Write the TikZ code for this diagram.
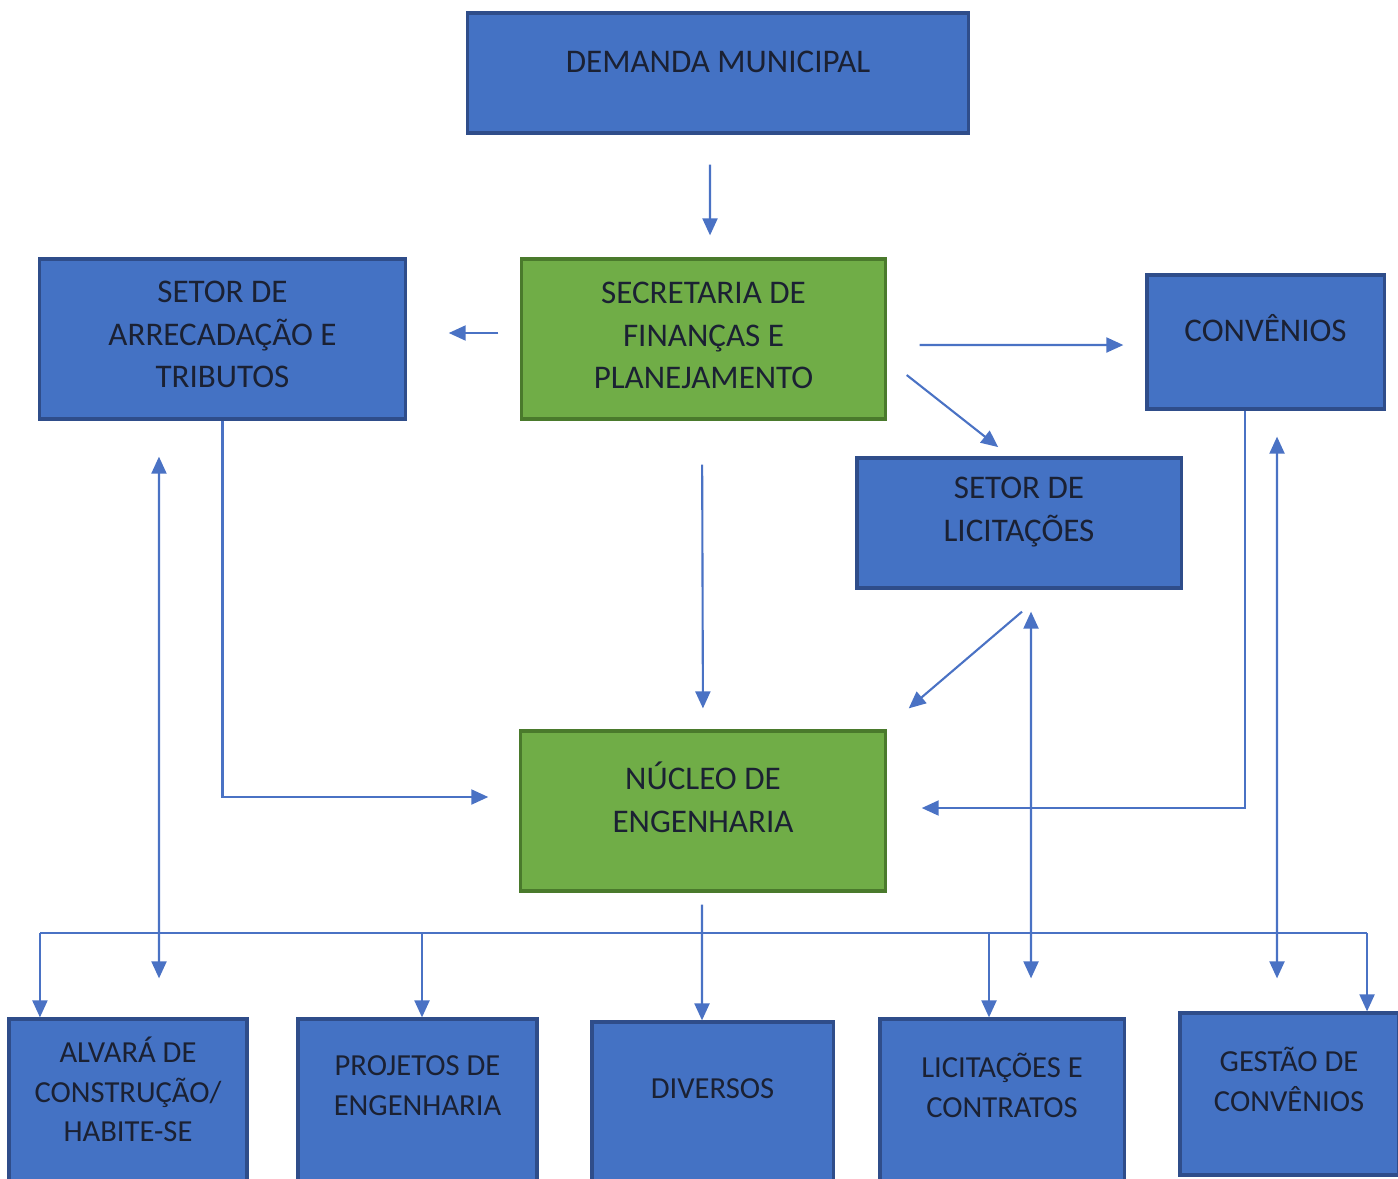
\documentclass[tikz,border=0pt]{standalone}
\usepackage{fontspec}
\setmainfont{Carlito}
\usepackage{xcolor}
\usetikzlibrary{positioning, arrows.meta, calc}
\definecolor{blueface}{HTML}{4472C4}
\definecolor{blueedge}{HTML}{2F4D8A}
\definecolor{greenface}{HTML}{70AD47}
\definecolor{greenedge}{HTML}{4A7A2C}
\definecolor{linkc}{HTML}{4A72C4}
\definecolor{txtc}{HTML}{1B2133}

\begin{document}
\begin{tikzpicture}[x=0.01cm, y=-0.01cm,
          bx/.style={draw=#1edge, fill=#1face, line width=0.9pt, inner sep=0pt},
          lbl/.style={align=center, text=txtc, font=\fontsize{9.4}{12.2}\selectfont},
          sublbl/.style={lbl, font=\fontsize{8.7}{11.3}\selectfont},
          ln/.style={draw=linkc, line width=0.6pt},
          arr/.style={ln, -{Triangle[length=1.7mm, width=1.5mm]}},
          dbl/.style={ln, {Triangle[length=1.7mm, width=1.5mm]}-{Triangle[length=1.7mm, width=1.5mm]}},
        ]
        \useasboundingbox (0,0) rectangle (1398,1178);
        \clip (0,0) rectangle (1398,1178);
        % boxes
        \node[bx=blue, minimum width=5cm, minimum height=1.2cm] (dem) at (718,73) {};
        \node[bx=blue, minimum width=3.65cm, minimum height=1.6cm] (arr) at (222.5,339) {};
        \node[bx=green, minimum width=3.63cm, minimum height=1.6cm] (sec) at (703.5,339) {};
        \node[bx=blue, minimum width=2.37cm, minimum height=1.34cm] (conv) at (1265.5,342) {};
        \node[bx=blue, minimum width=3.24cm, minimum height=1.3cm] (lic) at (1019,523) {};
        \node[bx=green, minimum width=3.64cm, minimum height=1.6cm] (nuc) at (703,811) {};
        \node[bx=blue, minimum width=2.38cm, minimum height=1.8cm] (alv) at (128,1109) {};
        \node[bx=blue, minimum width=2.39cm, minimum height=1.8cm] (proj) at (417.5,1109) {};
        \node[bx=blue, minimum width=2.41cm, minimum height=1.8cm] (div) at (712.5,1112) {};
        \node[bx=blue, minimum width=2.44cm, minimum height=1.8cm] (licc) at (1002,1109) {};
        \node[bx=blue, minimum width=2.18cm, minimum height=1.62cm] (gest) at (1289,1094) {};
        % texts
        \node[lbl] (dem-t) at ([yshift=-0.5cm]dem.north) {DEMANDA MUNICIPAL};
        \node[lbl] (arr-t) at ([yshift=-0.77cm]arr.north) {SETOR DE\\ARRECADAÇÃO E\\TRIBUTOS};
        \node[lbl] (sec-t) at ([yshift=-0.78cm]sec.north) {SECRETARIA DE\\FINANÇAS E\\PLANEJAMENTO};
        \node[lbl] (conv-t) at ([yshift=-0.55cm]conv.north) {CONVÊNIOS};
        \node[lbl] (lic-t) at ([yshift=-0.56cm]lic.north) {SETOR DE\\LICITAÇÕES};
        \node[lbl] (nuc-t) at ([yshift=-0.68cm]nuc.north) {NÚCLEO DE\\ENGENHARIA};
        \node[sublbl] (alv-t) at ([yshift=-0.72cm]alv.north) {ALVARÁ DE\\CONSTRUÇÃO/\\HABITE-SE};
        \node[sublbl] (proj-t) at ([yshift=-0.68cm]proj.north) {PROJETOS DE\\ENGENHARIA};
        \node[sublbl] (div-t) at ([yshift=-0.68cm]div.north) {DIVERSOS};
        \node[sublbl] (licc-t) at ([yshift=-0.68cm]licc.north) {LICITAÇÕES E\\CONTRATOS};
        \node[sublbl] (gest-t) at ([yshift=-0.68cm]gest.north) {GESTÃO DE\\CONVÊNIOS};
        % links
        \draw[arr, shorten <=0.3cm, shorten >=0.22cm] ([xshift=-0.08cm]dem.south) -- ([xshift=0.065cm]sec.north);
        \draw[arr, shorten <=0.22cm, shorten >=0.42cm] ([yshift=0.06cm]sec.west) -- ([yshift=0.06cm]arr.east);
        \draw[arr, shorten <=0.33cm, shorten >=0.22cm] ([yshift=-0.06cm]sec.east) -- ([yshift=-0.03cm]conv.west);
        \draw[arr, shorten >=0.15cm] ([xshift=0.2cm, yshift=-0.36cm]sec.east) -- ([xshift=-0.09cm]lic.north);
        \draw[arr, shorten <=0.44cm, shorten >=0.21cm] ([xshift=-0.015cm]sec.south) -- (nuc.north);
        \draw[arr, shorten >=0.31cm] (arr.south) |- ([yshift=0.14cm]nuc.west);
        \draw[arr, shorten >=0.35cm] ([xshift=-0.205cm]conv.south) |- ([yshift=0.03cm]nuc.east);
        \draw[arr] ([xshift=0.03cm, yshift=-0.22cm]lic.south) -- ([xshift=0.22cm, yshift=0.21cm]nuc.north east);
        \draw[dbl, shorten <=0.36cm, shorten >=0.39cm] ([xshift=-0.635cm]arr.south) -- ([xshift=0.31cm]alv.north);
        \draw[dbl, shorten <=0.22cm, shorten >=0.39cm] ([xshift=0.12cm]lic.south) -- ([xshift=0.29cm]licc.north);
        \draw[dbl, shorten <=0.26cm, shorten >=0.33cm] ([xshift=0.115cm]conv.south) -- ([xshift=-0.12cm]gest.north);
        % bottom bus
        \coordinate (bus) at (0,933);
        \draw[arr, shorten <=0.12cm] ([xshift=-0.01cm]nuc.south) -- ([xshift=-0.105cm]div.north);
        \foreach \tgt/\dx in {alv/-0.88, proj/0.045, licc/-0.13, gest/0.78}{
          \coordinate (top-\tgt) at ([xshift=\dx cm]\tgt.north);
          \draw[arr] (top-\tgt |- bus) -- (top-\tgt);
        }
        \draw[ln] (top-alv |- bus) -- (top-gest |- bus);
        \end{tikzpicture}
\end{document}
